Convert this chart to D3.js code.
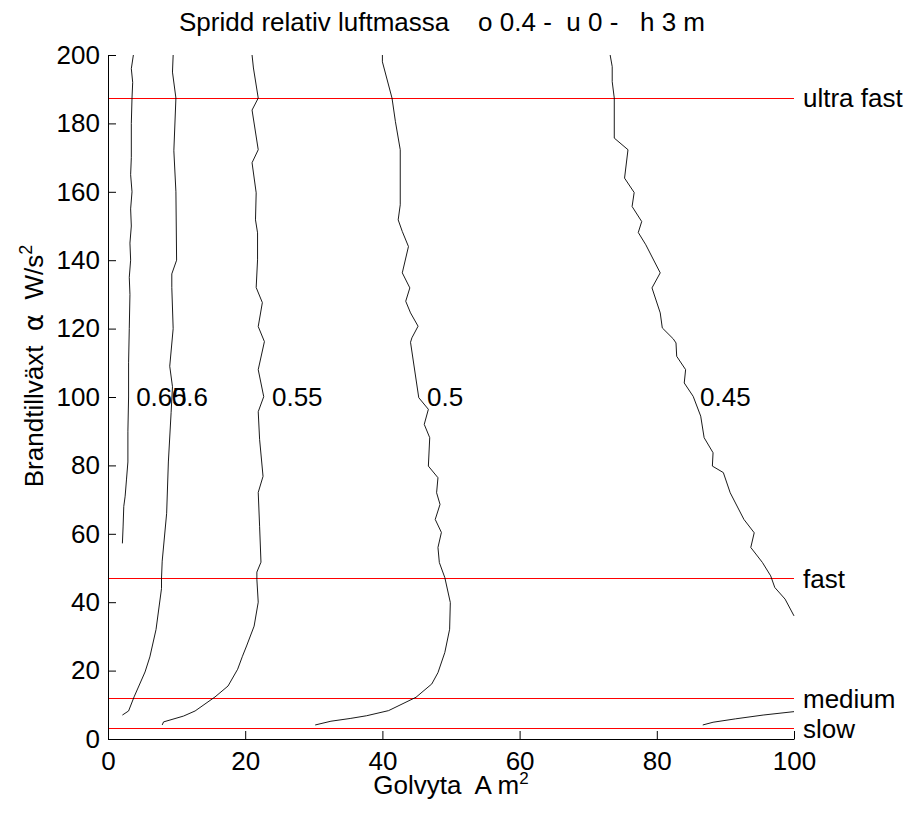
<!DOCTYPE html>
<html><head><meta charset="utf-8">
<script src="https://cdn.jsdelivr.net/npm/d3@7"></script>
<style>
body{margin:0;background:#fff;}
svg{display:block;font-family:"Liberation Sans",Arial,sans-serif;}
</style></head>
<body><svg id="chart" width="904" height="819"></svg>
<script>
// ---- data ----
const title = "Spridd relativ luftmassa    o 0.4 -  u 0 -   h 3 m";
const xTicks = [0, 20, 40, 60, 80, 100];
const yTicks = [0, 20, 40, 60, 80, 100, 120, 140, 160, 180, 200];
const fireClasses = ["slow", "medium", "fast", "ultra fast"];
const fireAlpha = [2.93, 11.72, 46.9, 187.6];

const contourLevels = ["0.65", "0.6", "0.55", "0.5", "0.45"];
const labelX = [4.1, 9.3, 23.9, 46.5, 86.3];
const labelY = [100, 100, 100, 100, 100];

const c065 = [[3.7,200],[3.4,196],[3.6,192],[3.5,187.4],[3.4,180],[3.4,170],[3.3,165],[3.5,160],[3.3,155],[3.4,150],[3.2,145],[3.3,140],[3.1,135],[3.2,130],[3.1,120],[3.0,110],[3.0,100],[2.9,90],[2.9,81],[2.7,76],[2.5,71],[2.3,68],[2.2,62],[2.1,57.2]];
const c060 = [[9.5,200],[9.4,195],[9.9,187.4],[9.6,172],[9.9,160],[10.0,140],[9.3,136],[9.3,132],[9.5,120],[9.0,109],[9.4,103],[9.2,95.5],[8.8,81],[8.55,66],[7.9,52],[7.8,47],[7.8,44],[7.0,32],[6.1,24],[5.4,19.6],[3.8,12.3],[3.0,8.2],[2.1,7.0]];
const c055 = [[21.0,200],[21.2,196.2],[21.9,187.4],[21.0,183.9],[21.9,172.3],[21.0,168.5],[21.6,159.7],[21.5,151.8],[21.8,148],[21.8,140.1],[21.6,132],[22.5,127.6],[21.9,120.6],[22.8,116.2],[21.9,108],[22.7,100.1],[21.9,95.7],[22.1,87.6],[22.6,76.8],[21.9,72.1],[22.1,62.2],[22.3,51.7],[21.7,48.8],[21.7,46.7],[21.9,40],[21.3,33],[20.2,27.2],[19.6,24.2],[18.9,20.4],[17.5,15.5],[15.6,12.3],[12.7,8.2],[11.0,6.7],[8.1,5.0],[7.9,4.1]];
const c050 = [[40.0,200],[40.0,198],[41.4,187.4],[41.9,180.5],[42.6,172.3],[42.6,156.2],[42.3,151.8],[42.9,148.4],[43.8,144],[42.9,136.3],[44.0,131.9],[43.4,128],[44.1,124.6],[45.2,120.7],[44.3,117.3],[44.1,116],[45.3,99.8],[46.7,96.4],[46.1,92],[46.9,88.1],[46.7,79.8],[48.1,76.4],[47.9,72],[48.4,68.6],[47.7,64.2],[48.6,60.4],[48.1,56],[48.3,51.6],[49.1,47.2],[49.9,39.9],[49.8,32.1],[49.1,25.3],[48.1,19.4],[47.2,16.1],[44.9,12.2],[40.9,8.3],[37.7,6.8],[35.3,6.0],[32.5,5.2],[30.2,4.1]];
const c045 = [[73.2,200],[73.5,196.6],[73.5,192.2],[73.8,187.4],[73.8,175.7],[75.8,172.3],[75.3,164],[76.7,159.8],[76.4,155.7],[77.8,151.3],[77.3,148.1],[78.4,144.5],[80.5,136.3],[79.3,131.9],[80.5,124.6],[80.8,120.2],[82.4,117],[82.8,115.8],[82.9,111.9],[84.2,108],[84.0,104.1],[85.3,100.2],[86.4,94.4],[86.9,88.1],[88.2,83.7],[88.1,79.8],[89.7,77.9],[90.7,72],[92.7,64.2],[94.2,60.3],[93.7,56],[95.4,51.6],[96.6,47.7],[97.2,44.3],[98.7,40.9],[100,36]];
const c045b = [[86.7,4.1],[88.2,4.9],[91.5,5.9],[95.5,7.0],[100,8.0]];
const contourLines = [c065, c060, c055, c050, c045, c045b];

// ---- layout ----
const FS = 26;
const svg = d3.select("#chart");
const x = d3.scaleLinear().domain([0, 100]).range([108, 794]);
const y = d3.scaleLinear().domain([0, 200]).range([739, 55]);
const rowOf = v => 2 * Math.round(v / 2) + 0.5;

// fire class lines
svg.append("g").selectAll("line").data(fireAlpha).join("line")
  .attr("x1", x(0)).attr("x2", x(100))
  .attr("y1", d => rowOf(y(d))).attr("y2", d => rowOf(y(d)))
  .attr("stroke", "#ff0000").attr("stroke-width", 1).attr("shape-rendering", "crispEdges");

svg.append("g").selectAll("text").data(fireClasses).join("text")
  .attr("x", x(100) + 9).attr("y", (d, i) => y(fireAlpha[i]))
  .attr("dy", "0.35em").attr("font-size", FS).text(d => d);

// contours
const line = d3.line().x(d => x(d[0])).y(d => y(d[1]));
svg.append("g").selectAll("path").data(contourLines).join("path")
  .attr("d", line).attr("fill", "none").attr("stroke", "#000").attr("stroke-width", 0.9);

svg.append("g").selectAll("text").data(contourLevels).join("text")
  .attr("x", (d, i) => x(labelX[i])).attr("y", (d, i) => y(labelY[i]))
  .attr("dy", "0.35em").attr("font-size", FS).text(d => d);

// axes
const xAxis = d3.axisBottom(x).tickValues(xTicks).tickSizeInner(-8).tickSizeOuter(0).tickPadding(13).tickFormat(d3.format("d"));
const yAxis = d3.axisLeft(y).tickValues(yTicks).tickSizeInner(-8).tickSizeOuter(0).tickPadding(8).tickFormat(d3.format("d"));
const gx = svg.append("g").attr("transform", `translate(0,${y(0)})`).call(xAxis);
const gy = svg.append("g").attr("transform", `translate(${x(0)},0)`).call(yAxis);
[gx, gy].forEach(g => {
  g.selectAll("text").attr("font-size", FS).attr("fill", "#000").attr("font-family", "Liberation Sans, Arial, sans-serif");
  g.selectAll("line,path").attr("stroke", "#000");
});

// title
svg.append("text").attr("x", 442).attr("y", 31).attr("text-anchor", "middle")
  .attr("font-size", FS).style("white-space", "pre").text(title);

// x label
const xl = svg.append("text").attr("x", 451).attr("y", 794).attr("text-anchor", "middle")
  .attr("font-size", FS).style("white-space", "pre");
xl.append("tspan").text("Golvyta  A m");
xl.append("tspan").attr("dy", -10).attr("font-size", 17).text("2");

// y label
const yl = svg.append("text").attr("transform", "translate(43,366) rotate(-90)")
  .attr("text-anchor", "middle").attr("font-size", FS).style("white-space", "pre");
yl.append("tspan").text("Brandtillväxt  ");
yl.append("tspan").attr("font-family", "DejaVu Sans, sans-serif").text("α");
yl.append("tspan").text("  W/s");
yl.append("tspan").attr("dy", -11).attr("font-size", 18).text("2");
</script></body></html>
